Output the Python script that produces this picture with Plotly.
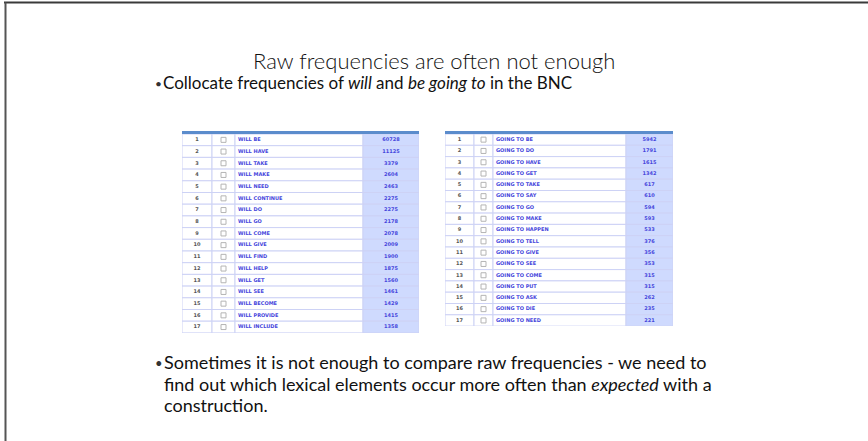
import plotly.graph_objects as go

W, H = 868, 441

# ---- data ----
will_ranks = list(range(1, 18))
will_words = ["WILL BE", "WILL HAVE", "WILL TAKE", "WILL MAKE", "WILL NEED", "WILL CONTINUE",
              "WILL DO", "WILL GO", "WILL COME", "WILL GIVE", "WILL FIND", "WILL HELP",
              "WILL GET", "WILL SEE", "WILL BECOME", "WILL PROVIDE", "WILL INCLUDE"]
will_freqs = [60728, 11125, 3379, 2604, 2463, 2275, 2275, 2178, 2078, 2009, 1900, 1875,
              1560, 1461, 1429, 1415, 1358]

going_ranks = list(range(1, 18))
going_words = ["GOING TO BE", "GOING TO DO", "GOING TO HAVE", "GOING TO GET", "GOING TO TAKE",
               "GOING TO SAY", "GOING TO GO", "GOING TO MAKE", "GOING TO HAPPEN", "GOING TO TELL",
               "GOING TO GIVE", "GOING TO SEE", "GOING TO COME", "GOING TO PUT", "GOING TO ASK",
               "GOING TO DIE", "GOING TO NEED"]
going_freqs = [5942, 1791, 1615, 1342, 617, 610, 594, 593, 533, 376, 356, 353, 315, 315,
               262, 235, 221]

title_text = "Raw frequencies are often not enough"
bullet1_text = "Collocate frequencies of <i>will</i> and <i>be going to</i> in the BNC"
bullet2_lines = ["Sometimes it is not enough to compare raw frequencies - we need to",
                 "find out which lexical elements occur more often than <i>expected</i> with a",
                 "construction."]

# ---- helpers ----
def px(x):
    return x / W

def py(y):
    return 1 - y / H

WORD_BLUE = "#4646dc"
FREQ_BG = "#cfdafe"
LINE_C = "#cdd2f5"
HEAD_C = "#5b8ccc"
CELL_FONT = "DejaVu Sans"

fig = go.Figure()

def add_table(idx, ranks, words, freqs, x0, x1, top, rowh, colw):
    xa = "x" if idx == 1 else f"x{idx}"
    ya = "y" if idx == 1 else f"y{idx}"
    n = len(ranks)
    starts = [0]
    for w in colw[:-1]:
        starts.append(starts[-1] + w)
    fills = ["white", "white", "white", FREQ_BG]
    for s, w, c in zip(starts, colw, fills):
        fig.add_trace(go.Bar(
            y=ranks, x=[w] * n, base=[s] * n, orientation="h", width=1,
            marker=dict(color=c, line=dict(color=LINE_C, width=1)),
            xaxis=xa, yaxis=ya, hoverinfo="skip"))
    # rank numbers
    fig.add_trace(go.Scatter(
        x=[starts[0] + colw[0] / 2] * n, y=ranks, mode="text",
        text=[f"<b>{r}</b>" for r in ranks], textposition="middle center",
        textfont=dict(family=CELL_FONT, size=5, color="#555555"),
        xaxis=xa, yaxis=ya, hoverinfo="skip"))
    # checkboxes
    fig.add_trace(go.Scatter(
        x=[starts[1] + colw[1] / 2] * n, y=ranks, mode="markers",
        marker=dict(symbol="square-open", size=5, color="#b4b4b4", line=dict(width=1)),
        xaxis=xa, yaxis=ya, hoverinfo="skip"))
    # words
    fig.add_trace(go.Scatter(
        x=[starts[2] + 3] * n, y=ranks, mode="text",
        text=[f"<b>{w}</b>" for w in words], textposition="middle right",
        textfont=dict(family=CELL_FONT, size=5, color=WORD_BLUE),
        xaxis=xa, yaxis=ya, hoverinfo="skip"))
    # frequencies
    fig.add_trace(go.Scatter(
        x=[starts[3] + colw[3] / 2] * n, y=ranks, mode="text",
        text=[f"<b>{f}</b>" for f in freqs], textposition="middle center",
        textfont=dict(family=CELL_FONT, size=5, color=WORD_BLUE),
        xaxis=xa, yaxis=ya, hoverinfo="skip"))
    bottom = top + 3 + rowh * n
    axx = dict(domain=[px(x0), px(x1)], range=[0, sum(colw)], visible=False,
               fixedrange=True, anchor=ya)
    axy = dict(domain=[py(bottom), py(top + 3)], range=[n + 0.5, 0.5], visible=False,
               fixedrange=True, anchor=xa)
    key = "" if idx == 1 else str(idx)
    fig.update_layout(**{f"xaxis{key}": axx, f"yaxis{key}": axy})
    # header bar
    fig.add_shape(type="rect", xref="paper", yref="paper", x0=px(x0), x1=px(x1),
                  y0=py(top + 3), y1=py(top), fillcolor=HEAD_C, line=dict(width=0))

add_table(1, will_ranks, will_words, will_freqs, 182, 419, 131, 11.7, [30, 23, 128, 56])
add_table(2, going_ranks, going_words, going_freqs, 445, 673, 131, 11.3, [29, 19, 133, 47])

BODY = "Lato, Liberation Sans, sans-serif"
annotations = [
    dict(x=px(434), y=py(60), text=title_text, xanchor="center", yanchor="middle",
         font=dict(family=BODY, size=22, color="#111111", weight=300)),
    dict(x=px(153), y=py(83), text="•", xanchor="left", yanchor="middle",
         font=dict(family=BODY, size=12, color="#333333")),
    dict(x=px(161), y=py(82), text=bullet1_text, xanchor="left", yanchor="middle",
         font=dict(family=BODY, size=17, color="#111111")),
    dict(x=px(153), y=py(363), text="•", xanchor="left", yanchor="middle",
         font=dict(family=BODY, size=13, color="#333333")),
]
for i, line in enumerate(bullet2_lines):
    annotations.append(dict(x=px(162), y=py(362 + 21.5 * i), text=line,
                            xanchor="left", yanchor="middle",
                            font=dict(family=BODY, size=18, color="#111111")))
for a in annotations:
    a.update(xref="paper", yref="paper", showarrow=False)

fig.add_shape(type="line", xref="paper", yref="paper", x0=px(4), x1=1, y0=py(2.5), y1=py(2.5),
              line=dict(color="#3a3a3a", width=2))
fig.add_shape(type="line", xref="paper", yref="paper", x0=px(5.5), x1=px(5.5), y0=py(2.5), y1=0,
              line=dict(color="#555555", width=2))

fig.update_layout(
    width=W, height=H,
    margin=dict(l=0, r=0, t=0, b=0),
    paper_bgcolor="white", plot_bgcolor="white",
    annotations=annotations,
    showlegend=False, barmode="overlay",
)

fig.write_html("out.html", config={"displayModeBar": False},
               post_script="document.body.style.margin='0px';")
